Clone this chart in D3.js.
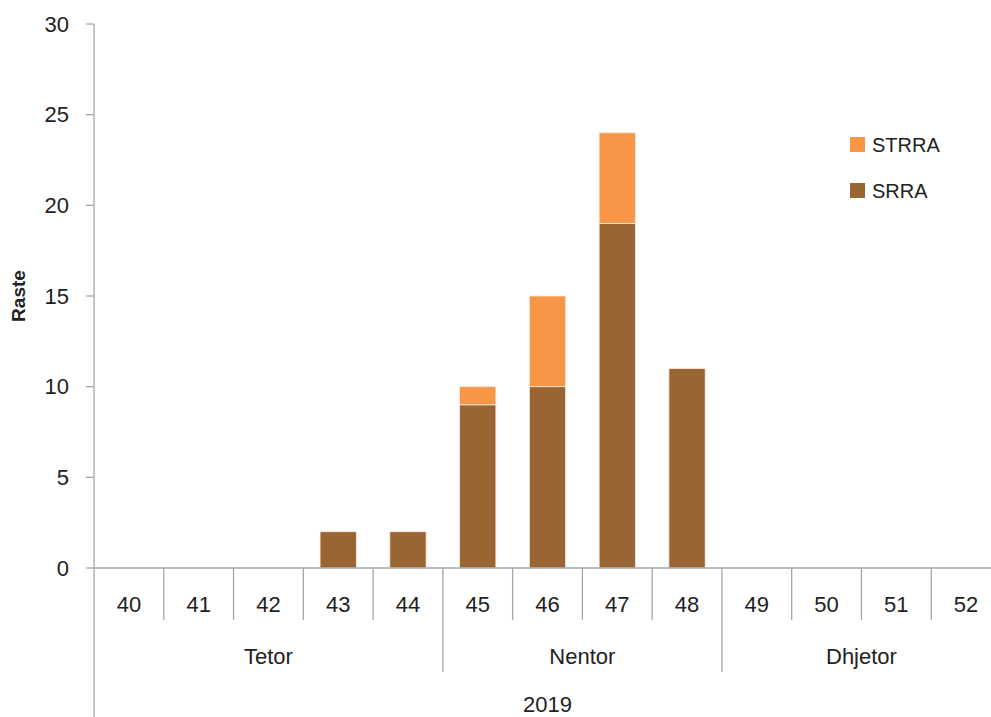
<!DOCTYPE html>
<html>
<head>
<meta charset="utf-8">
<script src="https://cdn.jsdelivr.net/npm/d3@7"></script>
<style>
  body { margin: 0; background: #fff; }
  text { font-family: "Liberation Sans", Arial, sans-serif; fill: #222; }
</style>
</head>
<body>
<div id="chart"></div>
<script>
// javet e vitit 2019
var weeks = ["40", "41", "42", "43", "44", "45", "46", "47", "48", "49", "50", "51", "52"];
var months = [["Tetor", 0, 5], ["Nentor", 5, 9], ["Dhjetor", 9, 13]];
var srra = [0, 0, 0, 2, 2, 9, 10, 19, 11, 0, 0, 0, 0];
var strra = [0, 0, 0, 0, 0, 1, 5, 5, 0, 0, 0, 0, 0];
var yTicks = [0, 5, 10, 15, 20, 25, 30];
var seriesNames = ["SRRA", "STRRA"];
var colors = ["#996633", "#F79646"];

var W = 991, H = 717;
var mLeft = 94, mTop = 24, mBottom = 568, mRight = 1001;

var svg = d3.select("#chart").append("svg")
    .attr("width", W)
    .attr("height", H);

var x = d3.scaleBand().domain(weeks).range([mLeft, mRight]).paddingInner(0.48).paddingOuter(0.24);
var xb = d3.scaleBand().domain(weeks).range([mLeft, mRight]);
var y = d3.scaleLinear().domain([0, 30]).range([mBottom, mTop]);

var table = weeks.map(function (w, i) { return { week: w, SRRA: srra[i], STRRA: strra[i] }; });
var layers = d3.stack().keys(seriesNames)(table);

// shiritat
svg.selectAll("g.layer")
    .data(layers)
    .enter()
    .append("g")
    .attr("class", "layer")
    .attr("fill", function (d, i) { return colors[i]; })
    .selectAll("rect")
    .data(function (d) { return d.filter(function (s) { return s[1] - s[0] > 0; }); })
    .enter()
    .append("rect")
    .attr("x", function (d) { return x(d.data.week); })
    .attr("width", x.bandwidth())
    .attr("y", function (d) { return y(d[1]); })
    .attr("height", function (d) { return y(d[0]) - y(d[1]); })
    .attr("stroke", "#fbe9dc")
    .attr("stroke-width", 0.8);

// boshti y
var axisColor = "#a6a6a6";
svg.append("line")
    .attr("x1", mLeft).attr("x2", mLeft)
    .attr("y1", mTop).attr("y2", H)
    .attr("stroke", axisColor).attr("stroke-width", 1.3);
svg.selectAll("line.ytick")
    .data(yTicks)
    .enter()
    .append("line")
    .attr("class", "ytick")
    .attr("x1", mLeft - 8).attr("x2", mLeft)
    .attr("y1", function (d) { return y(d); })
    .attr("y2", function (d) { return y(d); })
    .attr("stroke", axisColor).attr("stroke-width", 1.3);
svg.selectAll("text.ytick")
    .data(yTicks)
    .enter()
    .append("text")
    .attr("class", "ytick")
    .attr("x", mLeft - 25)
    .attr("y", function (d) { return y(d); })
    .attr("dy", "0.35em")
    .attr("text-anchor", "end")
    .attr("font-size", 22)
    .text(function (d) { return d; });

svg.append("text")
    .attr("transform", "translate(25," + ((mTop + mBottom) / 2) + ") rotate(-90)")
    .attr("text-anchor", "middle")
    .attr("font-size", 19)
    .attr("font-weight", "bold")
    .text("Raste");

// boshti x
svg.append("line")
    .attr("x1", mLeft).attr("x2", mRight)
    .attr("y1", mBottom).attr("y2", mBottom)
    .attr("stroke", axisColor).attr("stroke-width", 1.3);
svg.selectAll("line.wk")
    .data(weeks.slice(1))
    .enter()
    .append("line")
    .attr("class", "wk")
    .attr("x1", function (d) { return xb(d); })
    .attr("x2", function (d) { return xb(d); })
    .attr("y1", mBottom)
    .attr("y2", function (d, i) {
        var isMonth = months.some(function (m) { return m[1] === i + 1; });
        return isMonth ? 672 : 620;
    })
    .attr("stroke", axisColor).attr("stroke-width", 1.3);
svg.selectAll("text.wk")
    .data(weeks)
    .enter()
    .append("text")
    .attr("class", "wk")
    .attr("x", function (d) { return xb(d) + xb.bandwidth() / 2; })
    .attr("y", 604)
    .attr("dy", "0.35em")
    .attr("text-anchor", "middle")
    .attr("font-size", 22)
    .text(function (d) { return d; });
svg.selectAll("text.mon")
    .data(months)
    .enter()
    .append("text")
    .attr("class", "mon")
    .attr("x", function (d) { return (xb(weeks[d[1]]) + xb(weeks[d[2] - 1]) + xb.bandwidth()) / 2; })
    .attr("y", 656)
    .attr("dy", "0.35em")
    .attr("text-anchor", "middle")
    .attr("font-size", 22)
    .text(function (d) { return d[0]; });
svg.append("text")
    .attr("x", (mLeft + mRight) / 2)
    .attr("y", 704)
    .attr("dy", "0.35em")
    .attr("text-anchor", "middle")
    .attr("font-size", 22)
    .text("2019");

// legjenda
var legend = svg.selectAll("g.leg")
    .data(["STRRA", "SRRA"])
    .enter()
    .append("g")
    .attr("class", "leg")
    .attr("transform", function (d, i) { return "translate(850," + (137 + i * 46) + ")"; });
legend.append("rect")
    .attr("width", 15).attr("height", 15)
    .attr("fill", function (d) { return colors[seriesNames.indexOf(d)]; });
legend.append("text")
    .attr("x", 22).attr("y", 8)
    .attr("dy", "0.35em")
    .attr("font-size", 20)
    .text(function (d) { return d; });
</script>
</body>
</html>
